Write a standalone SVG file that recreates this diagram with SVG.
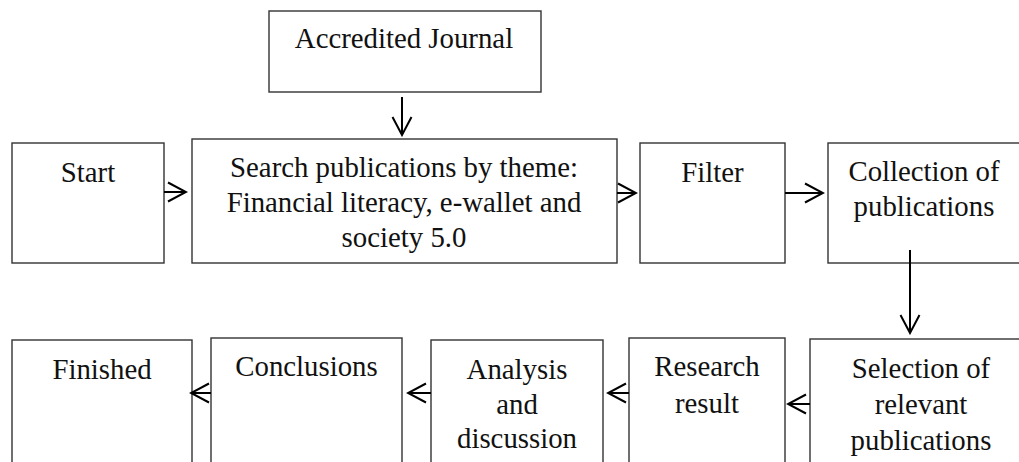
<svg xmlns="http://www.w3.org/2000/svg" width="1019" height="462" viewBox="0 0 1019 462">
<style>
.box{fill:#fff;stroke:#333;stroke-width:1.4}
.t{font-family:"Liberation Serif","DejaVu Serif",serif;font-size:28.8px;fill:#111;text-anchor:middle}
.c{fill:none;stroke:#000;stroke-width:2}
</style>
<defs>
<marker id="ah" viewBox="-20 -11 22 22" markerWidth="22" markerHeight="22" refX="0" refY="0" orient="auto" markerUnits="userSpaceOnUse">
<path d="M-18,-9.5 L0,0 L-18,9.5" fill="none" stroke="#000" stroke-width="2"/>
</marker>
</defs>
<rect width="1019" height="462" fill="#fff"/>
<g id="accredited"><rect class="box" x="269" y="11" width="272" height="81"/><text class="t" x="404" y="48">Accredited Journal</text></g>
<g id="start"><rect class="box" x="12" y="143" width="152" height="120"/><text class="t" x="88" y="182">Start</text></g>
<g id="search"><rect class="box" x="192" y="139" width="425" height="124"/><text class="t" x="404" y="177">Search publications by theme:</text><text class="t" x="404" y="212">Financial literacy, e-wallet and</text><text class="t" x="404" y="247">society 5.0</text></g>
<g id="filter"><rect class="box" x="640" y="143" width="145" height="120"/><text class="t" x="712.5" y="182">Filter</text></g>
<g id="collection"><rect class="box" x="828" y="143" width="194" height="120"/><text class="t" x="924" y="181">Collection of</text><text class="t" x="924" y="216">publications</text></g>
<g id="selection"><rect class="box" x="810" y="339" width="222" height="140"/><text class="t" x="921" y="378">Selection of</text><text class="t" x="921" y="414">relevant</text><text class="t" x="921" y="450">publications</text></g>
<g id="research"><rect class="box" x="629" y="338" width="156" height="140"/><text class="t" x="707" y="376">Research</text><text class="t" x="707" y="413">result</text></g>
<g id="analysis"><rect class="box" x="431" y="340" width="172" height="140"/><text class="t" x="517" y="379">Analysis</text><text class="t" x="517" y="414">and</text><text class="t" x="517" y="448">discussion</text></g>
<g id="conclusions"><rect class="box" x="211" y="338" width="191" height="140"/><text class="t" x="306.5" y="376">Conclusions</text></g>
<g id="finished"><rect class="box" x="12" y="340" width="180" height="140"/><text class="t" x="102" y="379">Finished</text></g>
<g id="connectors">
<line class="c" x1="402" y1="97" x2="402" y2="135" marker-end="url(#ah)"/>
<line class="c" x1="164" y1="192" x2="186" y2="192" marker-end="url(#ah)"/>
<line class="c" x1="617" y1="193" x2="636" y2="193" marker-end="url(#ah)"/>
<line class="c" x1="785" y1="193" x2="823" y2="193" marker-end="url(#ah)"/>
<line class="c" x1="910" y1="250" x2="910" y2="333" marker-end="url(#ah)"/>
<line class="c" x1="810" y1="404" x2="788" y2="404" marker-end="url(#ah)"/>
<line class="c" x1="629" y1="393" x2="608" y2="393" marker-end="url(#ah)"/>
<line class="c" x1="431" y1="393" x2="408" y2="393" marker-end="url(#ah)"/>
<line class="c" x1="211" y1="393" x2="191" y2="393" marker-end="url(#ah)"/>
</g>
</svg>
